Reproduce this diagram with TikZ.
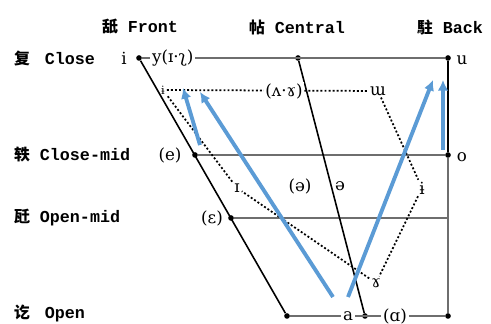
\documentclass[tikz,border=0pt]{standalone}
\usepackage{fontspec}
\setmonofont{Liberation Mono}
\newfontfamily\cjk{Noto Sans CJK SC}
\newfontfamily\ipa{DejaVu Serif}
\usetikzlibrary{positioning, arrows.meta, calc}
\definecolor{trendblue}{HTML}{5B9BD5}
\definecolor{gridgray}{HTML}{6E6E6E}

\begin{document}
\begin{tikzpicture}[
    x=0.02cm, y=-0.02cm,
    >={Latex[length=6pt, width=6pt]},
    edge/.style={line width=0.9pt, color=black},
    grid/.style={line width=0.6pt, color=gridgray},
    dots/.style={line width=1pt, dash pattern=on 1.1pt off 1.2pt},
    trend/.style={->, line width=2.2pt, color=trendblue},
    pt/.style={circle, fill=black, inner sep=0pt, minimum size=3.2pt},
    head/.style={font=\ttfamily\bfseries\fontsize{9.5}{11}\selectfont, inner sep=1pt},
    row/.style={head, anchor=west},
    sym/.style={font=\ipa\fontsize{9.5}{11}\selectfont, inner sep=1pt},
]
\useasboundingbox (0,0) rectangle (491,324);

% column and row headings
\node[head] (front) at (140,27) {{\cjk\small 舐} Front};
\node[head] (central) at (297,27) {{\cjk\small 帖} Central};
\node[head] (back) at (450,27) {{\cjk\small 駐} Back};
\node[row] (close) at (12,58) {{\cjk\small 复}\hspace{0.9em}Close};
\node[row] (closemid) at (12,155) {{\cjk\small 轶} Close-mid};
\node[row] (openmid) at (12,218) {{\cjk\small 瓩} Open-mid};
\node[row] (open) at (12,313) {{\cjk\small 讫}\hspace{0.9em}Open};

% corner points
\node[pt] (i) at (139,58) {};
\node[pt] (ctop) at (298,58) {};
\node[pt] (u) at (448,58) {};
\node[pt] (e) at (195,155) {};
\node[pt] (o) at (448,155) {};
\node[pt] (eps) at (231,218) {};
\coordinate (omr) at (448,218);
\node[pt] (abot) at (287,316) {};
\node[pt] (cbot) at (365,316) {};
\node[pt] (bbot) at (448,316) {};

% frame
\draw[grid] (e) -- (o);
\draw[grid] (eps) -- (omr);
\draw[grid] (abot) -- (bbot);
\draw[edge] (u) -- (o);
\draw[grid] (o) -- (bbot);
\draw[edge] (i) -- (abot);
\draw[edge] (ctop) -- (cbot);

% second vowel space
\node[sym, font=\ipa\fontsize{6.5}{7}\selectfont] (d1) at (163,90) {ɨ};
\node[sym] (uu) at (378,91) {ɯ};
\node[sym] (barri) at (422,188) {ɨ};
\node[sym] (gam) at (376,283) {ɤ};
\node[sym] (iota) at (237,188) {ɪ};
\draw[dots] (d1) -- (uu);
\draw[dots] (uu) -- (barri) -- (gam) -- (iota) -- (d1);

% vowel labels
\node[sym] (ilab) at (124,58) {i};
\node[sym, fill=white, anchor=west] (ylab) at (150,58) {y(ɪ·ʅ)};
\draw[grid] (i) -- (ylab.west);
\draw[grid] (ylab.east) -- (u);
\node[sym] (ulab) at (462,60) {u};
\node[sym] (olab) at (462,157) {o};
\node[sym] (elab) at (170,155) {(e)};
\node[sym] (epslab) at (212,218) {(ɛ)};
\node[sym, fill=white] (wedge) at (284,91) {(ʌ·ɤ)};
\node[sym] (schwa1) at (300,186) {(ə)};
\node[sym] (schwa2) at (340,186) {ə};
\node[sym, fill=white] (alab) at (348,316) {a};
\node[sym, fill=white] (alpha) at (395,316) {(ɑ)};

% shift arrows
\coordinate (s1) at (200,145);
\coordinate (t1) at (183,88);
\coordinate (s2) at (333,297);
\coordinate (t2) at (200,92);
\coordinate (s3) at (348,297);
\coordinate (t3) at (433,80);
\coordinate (s4) at (443,150);
\coordinate (t4) at (443,80);
\draw[trend] (s1) -- (t1);
\draw[trend] (s2) -- (t2);
\draw[trend] (s3) -- (t3);
\draw[trend] (s4) -- (t4);

\end{tikzpicture}
\end{document}
